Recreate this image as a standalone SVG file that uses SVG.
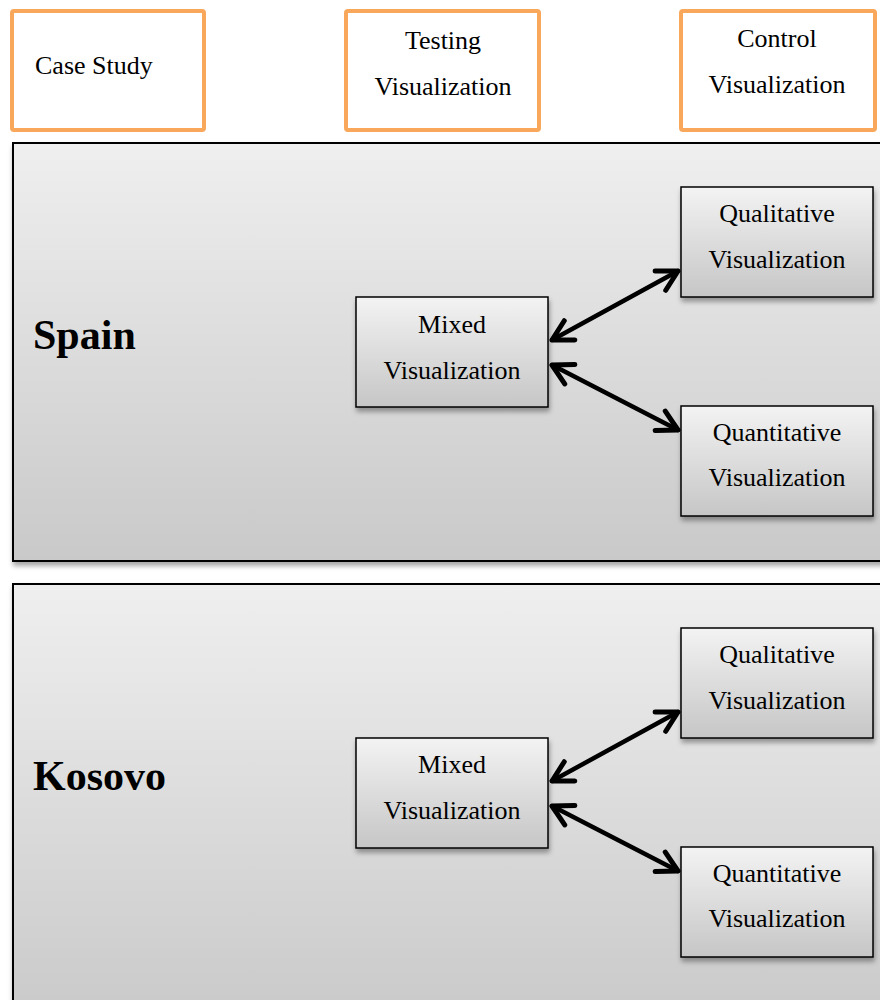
<svg xmlns="http://www.w3.org/2000/svg" width="880" height="1000" viewBox="0 0 880 1000">
<defs>
<linearGradient id="panelGrad" x1="0" y1="0" x2="0" y2="1">
<stop offset="0" stop-color="#efefef"/>
<stop offset="1" stop-color="#c9c9c9"/>
</linearGradient>
<linearGradient id="nodeGrad" x1="0" y1="0" x2="0" y2="1">
<stop offset="0" stop-color="#f3f3f3"/>
<stop offset="1" stop-color="#c6c6c6"/>
</linearGradient>
<filter id="shadow" x="-10%" y="-10%" width="120%" height="130%">
<feDropShadow dx="1" dy="4" stdDeviation="2.5" flood-color="#000" flood-opacity="0.35"/>
</filter>
<marker id="chev" viewBox="0 0 30 30" refX="24" refY="15" markerWidth="30" markerHeight="30" markerUnits="userSpaceOnUse" orient="auto-start-reverse">
<path d="M4,4 L24,15 L4,26" fill="none" stroke="#000" stroke-width="5" stroke-linecap="round" stroke-linejoin="round"/>
</marker>
</defs>
<style>
.hdr{fill:#fff;stroke:#f9a75b;stroke-width:4}
.panel{fill:url(#panelGrad);stroke:#000;stroke-width:2;filter:url(#shadow)}
.node{fill:url(#nodeGrad);stroke:#000;stroke-width:1.5;filter:url(#shadow)}
text{font-family:'Liberation Serif','Times New Roman',serif;fill:#000}
.t{font-size:26px}
.c{text-anchor:middle}
.big{font-size:42px;font-weight:bold}
.conn{stroke:#000;stroke-width:4.5;stroke-linecap:round;fill:none;marker-start:url(#chev);marker-end:url(#chev)}
</style>
<g id="case-study">
<rect class="hdr" x="12" y="11" width="192" height="119" rx="2"/>
<text class="t" x="35" y="74">Case Study</text>
</g>
<g id="testing-visualization">
<rect class="hdr" x="346" y="11" width="193" height="119" rx="2"/>
<text class="t c" x="443" y="49">Testing</text>
<text class="t c" x="443" y="95">Visualization</text>
</g>
<g id="control-visualization">
<rect class="hdr" x="681" y="11" width="194" height="119" rx="2"/>
<text class="t c" x="777" y="47">Control</text>
<text class="t c" x="777" y="93">Visualization</text>
</g>
<g id="spain-panel">
<rect class="panel" x="13" y="143" width="880" height="418"/>
<text class="big" x="33" y="349">Spain</text>
</g>
<g id="kosovo-panel">
<rect class="panel" x="13" y="584" width="880" height="440"/>
<text class="big" x="33" y="790">Kosovo</text>
</g>
<g id="spain-mixed">
<rect class="node" x="356" y="297" width="192" height="110"/>
<text class="t c" x="452" y="333">Mixed</text>
<text class="t c" x="452" y="379">Visualization</text>
</g>
<g id="spain-qualitative">
<rect class="node" x="681" y="187" width="192" height="110"/>
<text class="t c" x="777" y="222">Qualitative</text>
<text class="t c" x="777" y="268">Visualization</text>
</g>
<g id="spain-quantitative">
<rect class="node" x="681" y="406" width="192" height="110"/>
<text class="t c" x="777" y="441">Quantitative</text>
<text class="t c" x="777" y="486">Visualization</text>
</g>
<g id="kosovo-mixed">
<rect class="node" x="356" y="738" width="192" height="110"/>
<text class="t c" x="452" y="773">Mixed</text>
<text class="t c" x="452" y="819">Visualization</text>
</g>
<g id="kosovo-qualitative">
<rect class="node" x="681" y="628" width="192" height="110"/>
<text class="t c" x="777" y="663">Qualitative</text>
<text class="t c" x="777" y="709">Visualization</text>
</g>
<g id="kosovo-quantitative">
<rect class="node" x="681" y="847" width="192" height="110"/>
<text class="t c" x="777" y="882">Quantitative</text>
<text class="t c" x="777" y="927">Visualization</text>
</g>
<g id="connectors">
<line class="conn" x1="552" y1="340" x2="678" y2="271"/>
<line class="conn" x1="552" y1="365" x2="678" y2="430"/>
<line class="conn" x1="552" y1="781" x2="678" y2="712"/>
<line class="conn" x1="552" y1="806" x2="678" y2="871"/>
</g>
</svg>
